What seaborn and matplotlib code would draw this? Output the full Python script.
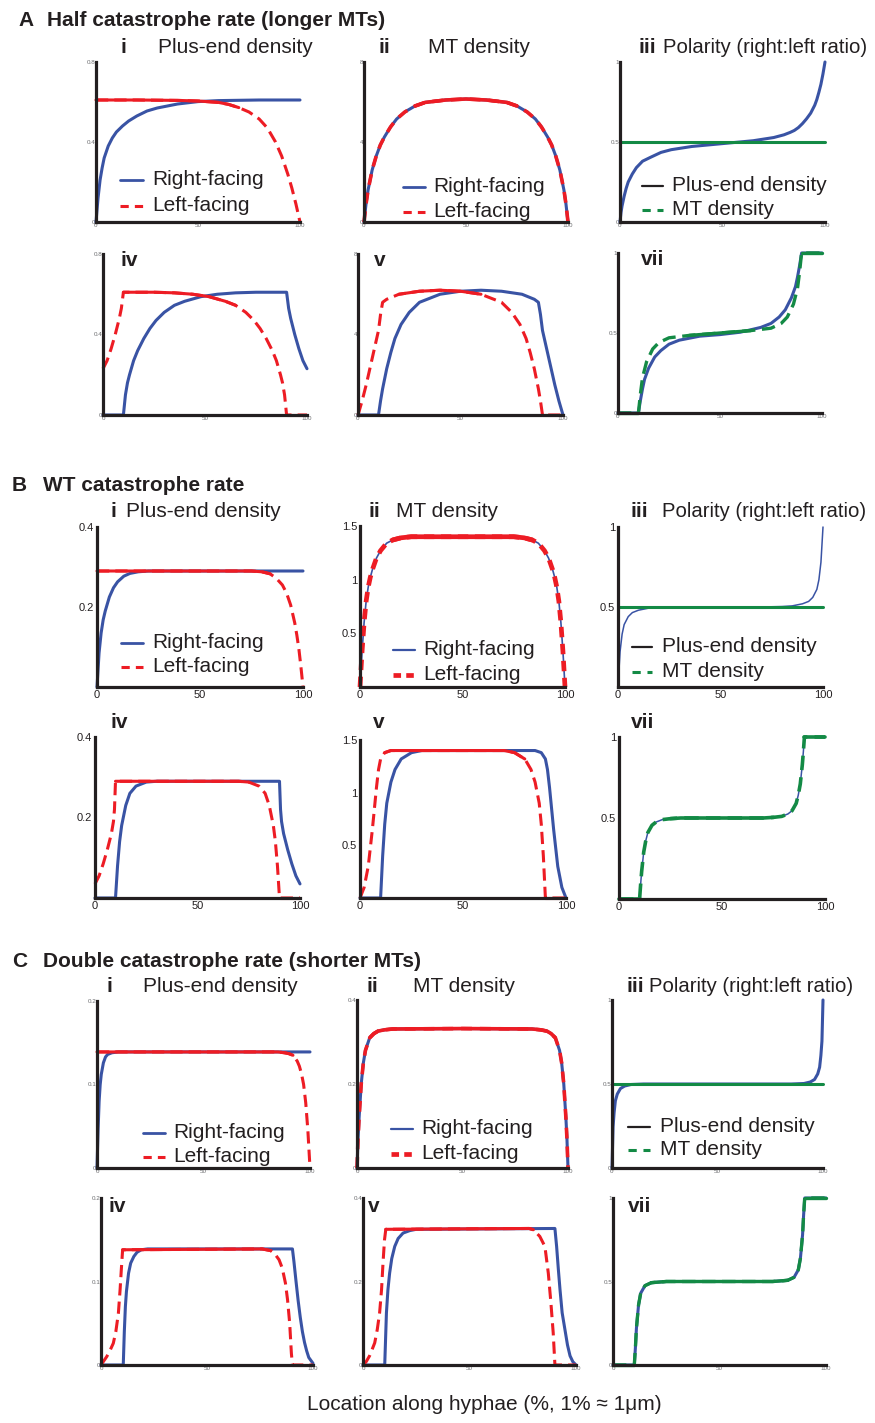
"""Perfiles de densidad de extremos (+) y de MTs a lo largo de la hifa.

Tres filas (A, B, C) con distinta tasa de catastrofe; cada una con seis
paneles pequenos dibujados con seaborn sobre ejes colocados a mano.
"""

import matplotlib

matplotlib.use("Agg")
import matplotlib.pyplot as plt
import pandas as pd
import seaborn as sns
from matplotlib.lines import Line2D

# ---------------------------------------------------------------- datos A
a_i_right_x = [0, 1, 2, 3, 4, 6, 8, 10, 13, 16, 20, 25, 30, 40, 50, 60, 80, 100]
a_i_right_y = [0, 0.12, 0.21, 0.27, 0.32, 0.38, 0.42, 0.45, 0.48, 0.505, 0.53,
               0.555, 0.57, 0.59, 0.602, 0.607, 0.61, 0.61]
a_i_left_x = [0, 20, 40, 50, 60, 65, 70, 75, 80, 84, 88, 91, 94, 96, 98, 99, 100]
a_i_left_y = [0.61, 0.61, 0.608, 0.605, 0.598, 0.588, 0.572, 0.55, 0.515, 0.47,
              0.4, 0.33, 0.24, 0.17, 0.09, 0.045, 0]

a_ii_x = [0, 1, 2, 4, 6, 8, 10, 13, 16, 20, 25, 30, 40, 50, 60, 70, 75, 80, 84,
          87, 90, 92, 94, 96, 98, 99, 100]
a_ii_right = [0, 0.9, 1.6, 2.6, 3.3, 3.85, 4.25, 4.75, 5.15, 5.5, 5.8, 5.98, 6.1,
              6.15, 6.1, 5.98, 5.8, 5.5, 5.15, 4.75, 4.25, 3.85, 3.3, 2.6, 1.6,
              0.9, 0]
a_ii_left = [0, 0.9, 1.6, 2.6, 3.3, 3.85, 4.25, 4.75, 5.15, 5.5, 5.8, 5.98, 6.1,
             6.15, 6.1, 5.98, 5.8, 5.5, 5.15, 4.75, 4.25, 3.85, 3.3, 2.6, 1.6,
             0.9, 0]

a_iii_x = [0, 0.5, 1, 2, 3, 4, 6, 8, 11, 15, 20, 25, 35, 50, 65, 75, 80, 83, 85,
           87, 89, 91, 93, 95, 96, 97, 98, 99, 100]
a_iii_plus = [0, 0.06, 0.1, 0.16, 0.21, 0.25, 0.3, 0.34, 0.38, 0.405, 0.435,
              0.452, 0.472, 0.49, 0.508, 0.528, 0.545, 0.56, 0.572, 0.59, 0.615,
              0.645, 0.68, 0.73, 0.765, 0.81, 0.86, 0.925, 1.0]
a_iii_mt_x = [0, 100]
a_iii_mt = [0.5, 0.5]

a_iv_right_x = [0, 10, 11, 12, 13, 15, 17, 20, 23, 26, 30, 35, 40, 48, 56, 65,
                75, 90, 91, 92, 94, 96, 98, 100]
a_iv_right_y = [0, 0, 0.1, 0.16, 0.2, 0.27, 0.32, 0.38, 0.43, 0.47, 0.51, 0.545,
                0.565, 0.588, 0.6, 0.607, 0.61, 0.61, 0.53, 0.48, 0.4, 0.33,
                0.27, 0.23]
a_iv_left_x = [0, 2, 4, 6, 8, 9, 10, 25, 35, 44, 52, 60, 65, 70, 74, 77, 80, 83,
               85, 87, 88, 89, 90, 100]
a_iv_left_y = [0.23, 0.27, 0.33, 0.4, 0.48, 0.53, 0.61, 0.61, 0.607, 0.6, 0.588,
               0.565, 0.545, 0.51, 0.47, 0.43, 0.38, 0.32, 0.27, 0.2, 0.16, 0.1,
               0, 0]

a_v_right_x = [0, 10, 11, 12, 14, 16, 18, 21, 25, 30, 40, 50, 60, 70, 80, 86, 88,
               89, 90, 92, 94, 96, 98, 100]
a_v_right_y = [0, 0, 0.7, 1.3, 2.3, 3.1, 3.8, 4.5, 5.1, 5.6, 6.0, 6.15, 6.2,
               6.15, 6.0, 5.75, 5.6, 5.0, 4.2, 3.3, 2.4, 1.5, 0.7, 0]
a_v_left_x = [0, 2, 4, 6, 8, 10, 11, 12, 14, 20, 30, 40, 50, 60, 70, 75, 79, 82,
              84, 86, 88, 89, 90, 100]
a_v_left_y = [0, 0.7, 1.5, 2.4, 3.3, 4.2, 5.0, 5.6, 5.75, 6.0, 6.15, 6.2, 6.15,
              6.0, 5.6, 5.1, 4.5, 3.8, 3.1, 2.3, 1.3, 0.7, 0, 0]

a_vii_plus_x = [0, 10, 11, 12, 13, 15, 18, 21, 25, 30, 40, 50, 60, 70, 75, 79,
                82, 85, 87, 88, 89, 90, 100]
a_vii_plus = [0, 0, 0.08, 0.15, 0.21, 0.28, 0.35, 0.39, 0.43, 0.455, 0.48, 0.49,
              0.505, 0.535, 0.56, 0.6, 0.645, 0.72, 0.79, 0.85, 0.92, 1.0, 1.0]
a_vii_mt_x = [0, 10, 11, 12, 14, 17, 20, 25, 35, 50, 65, 75, 80, 83, 86, 88, 89,
              90, 100]
a_vii_mt = [0, 0, 0.12, 0.22, 0.32, 0.4, 0.44, 0.47, 0.485, 0.5, 0.515, 0.53,
            0.56, 0.6, 0.68, 0.78, 0.88, 1.0, 1.0]

# ---------------------------------------------------------------- datos B
b_i_right_x = [0, 1, 2, 3, 4, 6, 8, 10, 13, 16, 20, 25, 100]
b_i_right_y = [0, 0.085, 0.135, 0.168, 0.19, 0.225, 0.248, 0.263, 0.277, 0.284,
               0.288, 0.29, 0.29]
b_i_left_x = [0, 75, 80, 84, 87, 90, 92, 94, 96, 97, 98, 99, 100]
b_i_left_y = [0.29, 0.29, 0.288, 0.283, 0.272, 0.255, 0.235, 0.205, 0.16, 0.13,
              0.095, 0.05, 0]

b_ii_x = [0, 1, 2, 3, 4, 5, 6, 8, 10, 13, 16, 20, 25, 50, 75, 80, 84, 87, 90, 92,
          94, 95, 96, 97, 98, 99, 100]
b_ii_right = [0, 0.33, 0.6, 0.8, 0.93, 1.02, 1.09, 1.2, 1.27, 1.34, 1.37, 1.39,
              1.4, 1.4, 1.4, 1.39, 1.37, 1.34, 1.27, 1.2, 1.09, 1.02, 0.93, 0.8,
              0.6, 0.33, 0]
b_ii_left = [0, 0.33, 0.6, 0.8, 0.93, 1.02, 1.09, 1.2, 1.27, 1.34, 1.37, 1.39,
             1.4, 1.4, 1.4, 1.39, 1.37, 1.34, 1.27, 1.2, 1.09, 1.02, 0.93, 0.8,
             0.6, 0.33, 0]

b_iii_x = [0, 1, 2, 3, 5, 7, 10, 15, 20, 30, 70, 80, 85, 90, 93, 95, 97, 98, 99,
           100]
b_iii_plus = [0, 0.22, 0.33, 0.39, 0.44, 0.465, 0.48, 0.493, 0.497, 0.5, 0.5,
              0.503, 0.507, 0.52, 0.535, 0.56, 0.61, 0.67, 0.78, 1.0]
b_iii_mt_x = [0, 100]
b_iii_mt = [0.5, 0.5]

b_iv_right_x = [0, 10, 11, 12, 13, 15, 17, 20, 25, 30, 90, 90.5, 91, 92, 94, 96,
                98, 100]
b_iv_right_y = [0, 0, 0.08, 0.14, 0.18, 0.23, 0.26, 0.278, 0.288, 0.29, 0.29,
                0.22, 0.19, 0.16, 0.12, 0.085, 0.055, 0.035]
b_iv_left_x = [0, 2, 4, 6, 8, 9, 9.5, 10, 70, 75, 80, 83, 85, 87, 88, 89, 90, 100]
b_iv_left_y = [0.035, 0.055, 0.085, 0.12, 0.16, 0.19, 0.22, 0.29, 0.29, 0.288,
               0.278, 0.26, 0.23, 0.18, 0.14, 0.08, 0, 0]

b_v_right_x = [0, 10, 11, 12, 13, 15, 17, 20, 25, 30, 85, 88, 90, 91, 92, 94, 96,
               98, 100]
b_v_right_y = [0, 0, 0.4, 0.7, 0.9, 1.1, 1.22, 1.32, 1.38, 1.4, 1.4, 1.38, 1.32,
               1.22, 1.05, 0.65, 0.3, 0.1, 0]
b_v_left_x = [0, 2, 4, 6, 8, 9, 10, 12, 15, 70, 75, 80, 83, 85, 87, 88, 89, 90,
              100]
b_v_left_y = [0, 0.1, 0.3, 0.65, 1.05, 1.22, 1.32, 1.38, 1.4, 1.4, 1.38, 1.32,
              1.22, 1.1, 0.9, 0.7, 0.4, 0, 0]

b_vii_x = [0, 10, 10.5, 11, 12, 13, 14, 16, 18, 21, 25, 30, 70, 75, 79, 82, 84,
           86, 87, 88, 89, 89.5, 90, 100]
b_vii_plus = [0, 0, 0.09, 0.17, 0.29, 0.36, 0.41, 0.455, 0.475, 0.49, 0.496, 0.5,
              0.5, 0.504, 0.51, 0.525, 0.545, 0.59, 0.64, 0.71, 0.83, 0.91, 1.0,
              1.0]
b_vii_mt = [0, 0, 0.09, 0.17, 0.29, 0.36, 0.41, 0.455, 0.475, 0.49, 0.496, 0.5,
            0.5, 0.504, 0.51, 0.525, 0.545, 0.59, 0.64, 0.71, 0.83, 0.91, 1.0,
            1.0]

# ---------------------------------------------------------------- datos C
c_i_right_x = [0, 0.5, 1, 1.5, 2, 3, 4, 5, 7, 10, 100]
c_i_right_y = [0, 0.045, 0.08, 0.1, 0.112, 0.126, 0.133, 0.136, 0.138, 0.139,
               0.139]
c_i_left_x = [0, 85, 88, 90, 92, 94, 95, 96, 97, 98, 99, 100]
c_i_left_y = [0.139, 0.139, 0.138, 0.137, 0.135, 0.128, 0.122, 0.113, 0.1, 0.078,
              0.045, 0]

c_ii_x = [0, 0.5, 1, 2, 3, 4, 6, 8, 10, 13, 17, 50, 83, 87, 90, 92, 94, 96, 97,
          98, 99, 99.5, 100]
c_ii_right = [0, 0.07, 0.12, 0.2, 0.25, 0.28, 0.31, 0.32, 0.326, 0.329, 0.331,
              0.332, 0.331, 0.329, 0.326, 0.32, 0.31, 0.28, 0.25, 0.2, 0.12, 0.07,
              0]
c_ii_left = [0, 0.07, 0.12, 0.2, 0.25, 0.28, 0.31, 0.32, 0.326, 0.329, 0.331,
             0.332, 0.331, 0.329, 0.326, 0.32, 0.31, 0.28, 0.25, 0.2, 0.12, 0.07,
             0]

c_iii_x = [0, 0.5, 1, 1.6, 2.5, 4, 6, 9, 15, 85, 91, 94, 96, 97.5, 98.4, 99, 99.5,
           100]
c_iii_plus = [0, 0.245, 0.33, 0.4, 0.44, 0.473, 0.488, 0.497, 0.5, 0.5, 0.503,
              0.512, 0.527, 0.56, 0.6, 0.67, 0.755, 1.0]
c_iii_mt_x = [0, 100]
c_iii_mt = [0.5, 0.5]

c_iv_right_x = [0, 10.5, 11, 11.5, 12, 13, 14, 15.5, 17, 19, 22, 90.3, 91, 92, 93,
                94, 95, 96, 97, 98, 100]
c_iv_right_y = [0, 0, 0.04, 0.07, 0.088, 0.11, 0.122, 0.13, 0.135, 0.138, 0.139,
                0.139, 0.124, 0.1, 0.077, 0.057, 0.04, 0.027, 0.017, 0.009,
                0.002]
c_iv_left_x = [0, 2.7, 4, 5.8, 7, 8.2, 9, 9.6, 10.2, 76, 80, 82, 84, 85.5, 87, 88,
               89, 89.8, 90.3, 100]
c_iv_left_y = [0, 0.01, 0.016, 0.026, 0.04, 0.062, 0.09, 0.115, 0.138, 0.139,
               0.137, 0.133, 0.126, 0.116, 0.098, 0.078, 0.05, 0.014, 0, 0]

c_v_right_x = [0, 10.2, 11, 11.7, 12.5, 13.5, 14.9, 16.5, 18.8, 22, 25, 90.1,
               90.9, 91.7, 92.5, 93.5, 94.8, 96, 97.2, 98.5, 100]
c_v_right_y = [0, 0, 0.125, 0.18, 0.22, 0.255, 0.284, 0.303, 0.316, 0.322, 0.325,
               0.327, 0.284, 0.23, 0.18, 0.125, 0.085, 0.048, 0.022, 0.008, 0]
c_v_left_x = [0, 1.5, 3.1, 4.5, 5.5, 6.7, 7.8, 8.7, 9.4, 10.1, 10.7, 78, 80, 83,
              85.4, 87, 88.2, 89.3, 90.1, 100]
c_v_left_y = [0, 0.008, 0.022, 0.04, 0.053, 0.085, 0.125, 0.18, 0.245, 0.3,
              0.325, 0.327, 0.324, 0.308, 0.284, 0.22, 0.15, 0.077, 0, 0]

c_vii_x = [0, 10, 10.5, 11, 12, 13, 15, 18, 25, 75, 82, 85, 87, 88, 89, 89.5, 90,
           100]
c_vii_plus = [0, 0, 0.1, 0.22, 0.36, 0.43, 0.475, 0.493, 0.5, 0.5, 0.507, 0.525,
              0.57, 0.64, 0.78, 0.9, 1.0, 1.0]
c_vii_mt = [0, 0, 0.1, 0.22, 0.36, 0.43, 0.475, 0.493, 0.5, 0.5, 0.507, 0.525,
            0.57, 0.64, 0.78, 0.9, 1.0, 1.0]

# ---------------------------------------------------------------- estilo
BLUE = "#3953a4"
RED = "#ed1c24"
GREEN = "#138a45"
INK = "#231f20"
GREY = "#6d6e71"
DASH = (4, 2)

sns.set_theme(style="white")
plt.rcParams["font.family"] = ["Liberation Sans", "DejaVu Sans"]

W, H = 875, 1423
fig = plt.figure(figsize=(W / 100, H / 100), dpi=100)


def fxy(x, y):
    """Pixeles de la imagen -> coordenadas de figura."""
    return x / W, 1 - y / H


def panel(box, ymax, yticks, ylabels, big=False):
    left, right, y0, top = box
    ax = fig.add_axes([left / W, 1 - y0 / H, (right - left) / W, (y0 - top) / H])
    ax.set_xlim(0, 100)
    ax.set_ylim(0, ymax)
    ax.set_facecolor("none")
    ax.grid(False)
    for side in ("top", "right"):
        ax.spines[side].set_visible(False)
    for side in ("left", "bottom"):
        ax.spines[side].set_linewidth(2.3)
        ax.spines[side].set_color(INK)
        ax.spines[side].set_capstyle("projecting")
    ax.set_xticks([0, 50, 100], ["0", "50", "100"])
    ax.set_yticks(yticks, ylabels)
    ax.tick_params(direction="in", length=2, width=1, color=INK,
                   labelsize=8 if big else 4.5,
                   labelcolor=INK if big else GREY,
                   pad=2 if big else 0.5)
    return ax


def curve(ax, x, y, color, lw, dashed=False, solid=(), dash=DASH):
    data = pd.DataFrame({"x": x, "y": y})
    kw = dict(ax=ax, color=color, linewidth=lw, estimator=None, sort=False,
              clip_on=False)
    if dashed:
        sns.lineplot(data=data, x="x", y="y", linestyle=(0, dash), **kw)
        # los tramos planos se ven continuos en el original
        for lo, hi in solid:
            part = data[(data["x"] >= lo) & (data["x"] <= hi)]
            sns.lineplot(data=part, x="x", y="y", **kw)
    else:
        sns.lineplot(data=data, x="x", y="y", **kw)
    ax.set_xlabel("")
    ax.set_ylabel("")


def text(x, y, s, bold=False, size=15):
    fx, fy = fxy(x, y)
    fig.text(fx, fy, s, fontsize=size, color=INK, va="baseline", ha="left",
             fontweight="bold" if bold else "normal")


def legend(x0, x1, xt, baselines, labels, styles):
    for base, label, (color, lw, ls) in zip(baselines, labels, styles):
        ya = 1 - (base - 5) / H
        fig.add_artist(Line2D([x0 / W, x1 / W], [ya, ya], color=color,
                              linewidth=lw, linestyle=ls,
                              transform=fig.transFigure))
        text(xt, base, label)


RL = ["Right-facing", "Left-facing"]
PM = ["Plus-end density", "MT density"]
POL = "Polarity (right:left ratio)"
rl_thin = [(BLUE, 2.0, "-"), (RED, 2.2, (0, (2.7, 2)))]
rl_thick = [(BLUE, 1.6, "-"), (RED, 3.4, (0, (1.6, 1.1)))]
pm_style = [(INK, 1.6, "-"), (GREEN, 2.2, (0, (2.7, 2.2)))]

# ---------------------------------------------------------------- fila A
text(18, 26, "A", bold=True)
text(47, 26, "Half catastrophe rate (longer MTs)", bold=True)
text(120, 53, "i", bold=True)
text(158, 53, "Plus-end density")
text(378, 53, "ii", bold=True)
text(428, 53, "MT density")
text(638, 53, "iii", bold=True)
text(663, 53, POL, size=14.6)

ax = panel((96, 300, 222, 62), 0.8, [0, 0.4, 0.8], ["0", "0.4", "0.8"])
curve(ax, a_i_right_x, a_i_right_y, BLUE, 2.2)
curve(ax, a_i_left_x, a_i_left_y, RED, 2.2, dashed=True, solid=[(0, 70)])
legend(120, 143, 152, [185, 211], RL, rl_thin)

ax = panel((364, 568, 222, 62), 8, [0, 4, 8], ["0", "4", "8"])
curve(ax, a_ii_x, a_ii_right, BLUE, 2.2)
curve(ax, a_ii_x, a_ii_left, RED, 2.6, dashed=True, solid=[(25, 75)],
      dash=(3, 2.2))
legend(403, 425, 433, [192, 217], RL, rl_thin)

ax = panel((620, 825, 222, 62), 1, [0, 0.5, 1], ["0", "0.5", "1"])
curve(ax, a_iii_x, a_iii_plus, BLUE, 2.2)
curve(ax, a_iii_mt_x, a_iii_mt, GREEN, 2.2)
legend(642, 663, 672, [191, 215], PM, pm_style)

ax = panel((103, 307, 415, 254), 0.8, [0, 0.4, 0.8], ["0", "0.4", "0.8"])
curve(ax, a_iv_right_x, a_iv_right_y, BLUE, 2.2)
curve(ax, a_iv_left_x, a_iv_left_y, RED, 2.2, dashed=True,
      solid=[(10, 65), (90, 100)])
text(120, 266, "iv", bold=True)

ax = panel((358, 563, 415, 254), 8, [0, 4, 8], ["0", "4", "8"])
curve(ax, a_v_right_x, a_v_right_y, BLUE, 2.2)
curve(ax, a_v_left_x, a_v_left_y, RED, 2.2, dashed=True,
      solid=[(20, 60), (90, 100)])
text(374, 266, "v", bold=True)

ax = panel((618, 822, 413, 253), 1, [0, 0.5, 1], ["0", "0.5", "1"])
curve(ax, a_vii_plus_x, a_vii_plus, BLUE, 2.2)
curve(ax, a_vii_mt_x, a_vii_mt, GREEN, 2.4, dashed=True,
      solid=[(0, 10), (35, 65), (90, 100)])
text(641, 265, "vii", bold=True)

# ---------------------------------------------------------------- fila B
text(12, 491, "B", bold=True)
text(43, 491, "WT catastrophe rate", bold=True)
text(110, 517, "i", bold=True)
text(126, 517, "Plus-end density")
text(368, 517, "ii", bold=True)
text(396, 517, "MT density")
text(630, 517, "iii", bold=True)
text(662, 517, POL, size=14.6)

ax = panel((97, 303, 687, 527), 0.4, [0.2, 0.4], ["0.2", "0.4"], big=True)
curve(ax, b_i_right_x, b_i_right_y, BLUE, 2.2)
curve(ax, b_i_left_x, b_i_left_y, RED, 2.2, dashed=True, solid=[(0, 84)])
legend(121, 143, 152, [648, 672], RL, rl_thin)

ax = panel((360, 565, 687, 526), 1.5, [0.5, 1, 1.5], ["0.5", "1", "1.5"],
           big=True)
curve(ax, b_ii_x, b_ii_right, BLUE, 1.2)
curve(ax, b_ii_x, b_ii_left, RED, 3.4, dashed=True, solid=[(16, 84)],
      dash=(2.2, 1.4))
legend(393, 415, 423, [655, 680], RL, rl_thick)

ax = panel((618, 823, 687, 527), 1, [0.5, 1], ["0.5", "1"], big=True)
curve(ax, b_iii_x, b_iii_plus, BLUE, 1.1)
curve(ax, b_iii_mt_x, b_iii_mt, GREEN, 2.2)
legend(632, 652, 662, [652, 677], PM, pm_style)

ax = panel((95, 300, 898, 737), 0.4, [0.2, 0.4], ["0.2", "0.4"], big=True)
curve(ax, b_iv_right_x, b_iv_right_y, BLUE, 2.2)
curve(ax, b_iv_left_x, b_iv_left_y, RED, 2.2, dashed=True,
      solid=[(10, 75), (90, 100)])
text(110, 728, "iv", bold=True)

ax = panel((360, 566, 898, 740), 1.5, [0.5, 1, 1.5], ["0.5", "1", "1.5"],
           big=True)
curve(ax, b_v_right_x, b_v_right_y, BLUE, 2.2)
curve(ax, b_v_left_x, b_v_left_y, RED, 2.2, dashed=True,
      solid=[(12, 80), (90, 100)])
text(373, 728, "v", bold=True)

ax = panel((619, 825, 899, 737), 1, [0.5, 1], ["0.5", "1"], big=True)
curve(ax, b_vii_x, b_vii_plus, BLUE, 1.1)
curve(ax, b_vii_x, b_vii_mt, GREEN, 2.6, dashed=True,
      solid=[(0, 10), (25, 75), (90, 100)])
text(631, 728, "vii", bold=True)

# ---------------------------------------------------------------- fila C
text(12, 967, "C", bold=True)
text(43, 967, "Double catastrophe rate (shorter MTs)", bold=True)
text(107, 992, "i", bold=True)
text(143, 992, "Plus-end density")
text(366, 992, "ii", bold=True)
text(413, 992, "MT density")
text(627, 992, "iii", bold=True)
text(649, 992, POL, size=14.6)

ax = panel((97, 310, 1168, 1001), 0.2, [0, 0.1, 0.2], ["0", "0.1", "0.2"])
curve(ax, c_i_right_x, c_i_right_y, BLUE, 2.2)
curve(ax, c_i_left_x, c_i_left_y, RED, 2.2, dashed=True, solid=[(0, 92)])
legend(143, 165, 173, [1138, 1162], RL, rl_thin)

ax = panel((357, 568, 1168, 1000), 0.4, [0, 0.2, 0.4], ["0", "0.2", "0.4"])
curve(ax, c_ii_x, c_ii_right, BLUE, 2.2)
curve(ax, c_ii_x, c_ii_left, RED, 2.6, dashed=True, solid=[(6, 94)],
      dash=(3, 2.2))
legend(391, 413, 421, [1134, 1159], RL, rl_thick)

ax = panel((612, 823, 1168, 1000), 1, [0, 0.5, 1], ["0", "0.5", "1"])
curve(ax, c_iii_x, c_iii_plus, BLUE, 2.2)
curve(ax, c_iii_mt_x, c_iii_mt, GREEN, 2.2)
legend(628, 650, 660, [1132, 1155], PM, pm_style)

ax = panel((101, 313, 1365, 1198), 0.2, [0, 0.1, 0.2], ["0", "0.1", "0.2"])
curve(ax, c_iv_right_x, c_iv_right_y, BLUE, 2.2)
curve(ax, c_iv_left_x, c_iv_left_y, RED, 2.2, dashed=True,
      solid=[(10.2, 80), (90.3, 100)])
text(108, 1212, "iv", bold=True)

ax = panel((363, 576, 1365, 1198), 0.4, [0, 0.2, 0.4], ["0", "0.2", "0.4"])
curve(ax, c_v_right_x, c_v_right_y, BLUE, 2.2)
curve(ax, c_v_left_x, c_v_left_y, RED, 2.2, dashed=True,
      solid=[(10.7, 80), (90.1, 100)])
text(368, 1212, "v", bold=True)

ax = panel((613, 826, 1365, 1198), 1, [0, 0.5, 1], ["0", "0.5", "1"])
curve(ax, c_vii_x, c_vii_plus, BLUE, 2.2)
curve(ax, c_vii_x, c_vii_mt, GREEN, 2.4, dashed=True,
      solid=[(0, 10), (18, 82), (90, 100)])
text(628, 1212, "vii", bold=True)

text(307, 1410, "Location along hyphae (%, 1% \u2248 1\u03bcm)")

fig.savefig("out.png", dpi=100)
